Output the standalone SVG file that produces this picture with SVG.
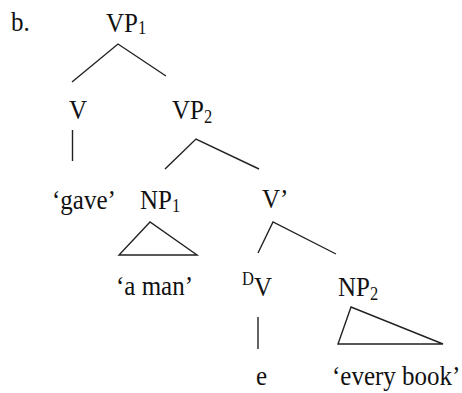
<svg xmlns="http://www.w3.org/2000/svg" width="462" height="393" viewBox="0 0 462 393">
<style>
text{font-family:"Liberation Serif","Times New Roman",serif;font-size:25px;fill:#111}
.sub{font-size:16.5px}
.e{stroke:#222;stroke-width:1.4;fill:none;stroke-linejoin:miter}
</style>
<rect width="462" height="393" fill="#fff"/>
<g id="label-b"><text x="11" y="31" transform="matrix(1,0,0,1.12,0,-3.72)">b.</text></g>
<g id="VP1"><text x="106" y="32" transform="matrix(1,0,0,1.12,0,-3.84)">VP<tspan class="sub" dy="2">1</tspan></text></g>
<g id="V"><text x="69" y="119" transform="matrix(1,0,0,1.12,0,-14.28)">V</text></g>
<g id="VP2"><text x="172" y="119" transform="matrix(1,0,0,1.12,0,-14.28)">VP<tspan class="sub" dy="3.5">2</tspan></text></g>
<g id="gave"><text x="52" y="209" transform="matrix(1,0,0,1.12,0,-25.08)">‘gave’</text></g>
<g id="NP1"><text x="140" y="209" transform="matrix(1,0,0,1.12,0,-25.08)">NP<tspan class="sub" dy="2.5">1</tspan></text></g>
<g id="Vbar"><text x="262" y="208" transform="matrix(1,0,0,1.12,0,-24.96)">V’</text></g>
<g id="aman"><text x="116" y="295" transform="matrix(1,0,0,1.12,0,-35.4)">‘a man’</text></g>
<g id="DV"><text x="242" y="296" transform="matrix(1,0,0,1.12,0,-35.52)"><tspan class="sub" dy="-10">D</tspan><tspan dy="10">V</tspan></text></g>
<g id="NP2"><text x="338" y="296" transform="matrix(1,0,0,1.12,0,-35.52)">NP<tspan class="sub" dy="3.5">2</tspan></text></g>
<g id="e"><text x="256" y="385" transform="matrix(1,0,0,1.12,0,-46.2)">e</text></g>
<g id="everybook"><text x="332" y="385" transform="matrix(1,0,0,1.12,0,-46.2)">‘every book’</text></g>
<g id="connectors">
<polyline class="e" points="72,82 118,44 166,76"/>
<line class="e" x1="72.5" y1="130" x2="72.5" y2="161"/>
<polyline class="e" points="165,169 196,139 259,169"/>
<polygon class="e" points="150,222 119,255 197,255"/>
<polyline class="e" points="258,253 273,222 336,254"/>
<line class="e" x1="258" y1="317" x2="258" y2="349"/>
<polygon class="e" points="351,307 338,344 443,344"/>
</g>
</svg>
